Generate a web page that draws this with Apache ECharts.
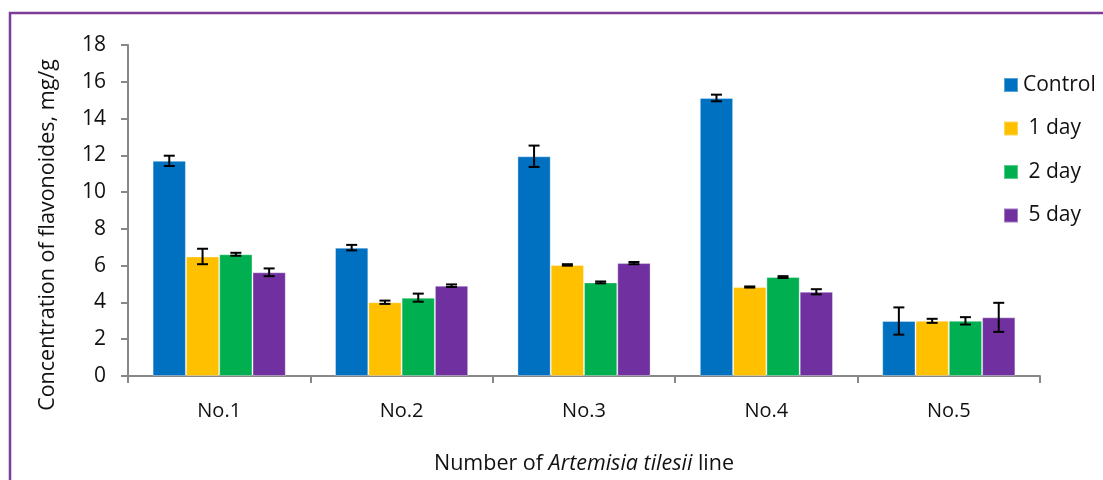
<!DOCTYPE html>
<html><head><meta charset="utf-8">
<script src="https://cdn.jsdelivr.net/npm/echarts@6/dist/echarts.min.js"></script>
<style>html,body{margin:0;padding:0;background:#fff}#c{width:1103px;height:480px}</style>
</head><body><div id="c"></div>
<script>
const categories = ['No.1','No.2','No.3','No.4','No.5'];
const seriesNames = ['Control',' 1 day',' 2 day',' 5 day'];
const control = [11.7, 6.98, 11.95, 15.12, 2.99];
const day1 = [6.5, 4.01, 6.04, 4.84, 3.0];
const day2 = [6.62, 4.26, 5.09, 5.38, 3.0];
const day5 = [5.64, 4.91, 6.14, 4.58, 3.19];
const controlErr = [0.28, 0.15, 0.58, 0.18, 0.74];
const day1Err = [0.42, 0.09, 0.04, 0.03, 0.11];
const day2Err = [0.08, 0.22, 0.05, 0.05, 0.2];
const day5Err = [0.21, 0.07, 0.06, 0.14, 0.79];
const yTicks = [0,2,4,6,8,10,12,14,16,18];
const colors = ['#0070C0','#FFC000','#00B050','#7030A0'];

const values = [control, day1, day2, day5];
const errs = [controlErr, day1Err, day2Err, day5Err];
const gapPct = 0.27;
const FONT = '"Open Sans", "Noto Sans", sans-serif';

const chart = echarts.init(document.getElementById('c'), null, {renderer:'canvas'});
const series = [];
values.forEach((vals, i) => {
  series.push({
    name: seriesNames[i], type: 'bar', data: vals,
    barGap: '0%', barCategoryGap: (gapPct*100)+'%',
    itemStyle: {color: colors[i], borderColor: 'rgba(255,255,255,0.35)', borderWidth: 1},
    z: 2
  });
});
values.forEach((vals, i) => {
  series.push({
    type: 'custom', z: 5, silent: true,
    data: vals.map((v, k) => [k, v, errs[i][k]]),
    renderItem: function (params, api) {
      const k = api.value(0), v = api.value(1), e = api.value(2);
      const band = api.size([1, 0])[0];
      const bw = band * (1 - gapPct) / 4;
      const off = (i - 1.5) * bw;
      const top = api.coord([k, v + e]);
      const bot = api.coord([k, v - e]);
      const x = top[0] + off;
      const cap = 5.5;
      const st = {stroke: '#000', lineWidth: 2};
      return {type: 'group', children: [
        {type: 'line', shape: {x1: x, y1: top[1], x2: x, y2: bot[1]}, style: st},
        {type: 'line', shape: {x1: x - cap, y1: top[1], x2: x + cap, y2: top[1]}, style: st},
        {type: 'line', shape: {x1: x - cap, y1: bot[1], x2: x + cap, y2: bot[1]}, style: st}
      ]};
    }
  });
});

chart.setOption({
  animation: false,
  color: colors,
  textStyle: {fontFamily: FONT},
  grid: {left: 128, right: 63, top: 45, bottom: 104, containLabel: false, outerBoundsMode: 'none'},
  legend: {
    data: seriesNames, orient: 'vertical', left: 998, top: 69,
    itemWidth: 14, itemHeight: 14, itemGap: 21.5,
    icon: 'rect',
    textStyle: {fontSize: 21, lineHeight: 22, color: '#111', fontFamily: FONT}
  },
  xAxis: {
    type: 'category', data: categories,
    axisLine: {lineStyle: {color: '#888', width: 2}},
    axisTick: {show: true, alignWithLabel: false, length: 7, lineStyle: {color: '#888', width: 2}},
    axisLabel: {fontSize: 20, color: '#111', margin: 25, fontFamily: FONT},
    name: '{n|Number of }{i|Artemisia tilesii}{n| line}',
    nameLocation: 'middle', nameGap: 77,
    nameTextStyle: {
      rich: {
        n: {fontSize: 21.5, color: '#111', fontFamily: FONT},
        i: {fontSize: 21.5, color: '#111', fontFamily: FONT, fontStyle: 'italic'}
      }
    }
  },
  yAxis: {
    type: 'value', min: 0, max: 18, interval: 2,
    axisLine: {show: true, lineStyle: {color: '#888', width: 2}},
    axisTick: {show: true, length: 7, lineStyle: {color: '#888', width: 2}},
    splitLine: {show: false},
    axisLabel: {fontSize: 21, color: '#111', margin: 22, fontFamily: FONT,
      formatter: v => yTicks.includes(v) ? String(v) : ''}
  },
  graphic: [{
    type: 'polyline', silent: true,
    shape: {points: [[10, 480], [10, 13], [1103, 13]]},
    style: {stroke: '#7d3c98', lineWidth: 2.5, fill: null}
  }, {
    type: 'text', silent: true,
    x: 48, y: 235, rotation: Math.PI / 2,
    style: {text: 'Concentration of flavonoides, mg/g', fontSize: 21.5, fill: '#111',
      fontFamily: FONT, align: 'center', verticalAlign: 'middle'}
  }],
  series: series
});
</script></body></html>
